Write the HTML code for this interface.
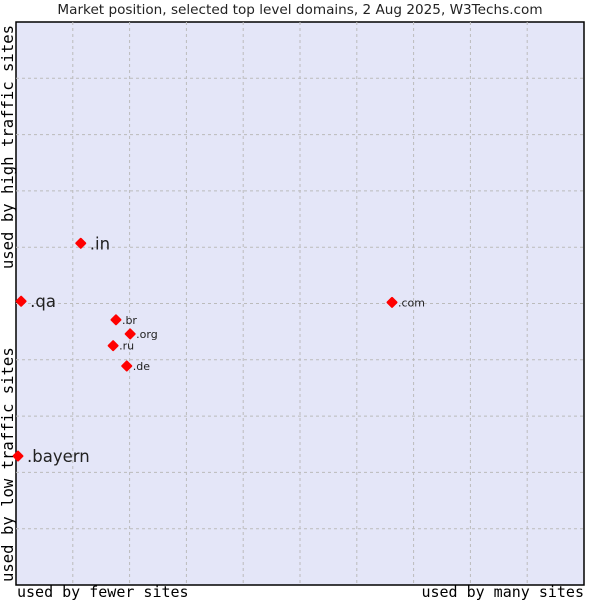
<!DOCTYPE html>
<html><head><meta charset="utf-8"><style>
body{margin:0;background:#fff;width:600px;height:600px;overflow:hidden}
svg text{font-family:"DejaVu Sans","Liberation Sans",sans-serif}
.mono{font-family:"DejaVu Sans Mono","Liberation Mono",monospace}
</style></head><body>
<svg id="chart" width="600" height="600">
<text x="300" y="14" text-anchor="middle" font-size="13.6" fill="#222">Market position, selected top level domains, 2 Aug 2025, W3Techs.com</text>
<rect x="16" y="22" width="568" height="563" fill="#e4e6f8" stroke="#000" stroke-width="1.5"/>
<g id="grid"></g>
<g id="points"></g>
<text class="mono" x="17" y="597" font-size="15" fill="#000">used by fewer sites</text>
<text class="mono" x="584" y="597" text-anchor="end" font-size="15" fill="#000">used by many sites</text>
<text class="mono" transform="translate(13,582) rotate(-90)" font-size="15.6" fill="#000">used by low traffic sites</text>
<text class="mono" transform="translate(13,25) rotate(-90)" text-anchor="end" font-size="15.6" fill="#000">used by high traffic sites</text>
</svg>
<script>
const domains=[".in",".qa",".com",".br",".org",".ru",".de",".bayern"];
const xValues=[11.4,0.9,66.2,17.6,20.1,17.1,19.5,0.35];
const yValues=[60.7,50.4,50.2,47.1,44.6,42.5,38.9,22.9];
const bigLabel=[true,true,false,false,false,false,false,true];
const L=16,T=22,W=568,H=563;
const sx=v=>L+v/100*W, sy=v=>T+H-v/100*H;
const ns="http://www.w3.org/2000/svg";
const g=document.getElementById('grid');
for(let i=1;i<10;i++){
  const v=document.createElementNS(ns,'line');
  v.setAttribute('x1',sx(i*10));v.setAttribute('x2',sx(i*10));v.setAttribute('y1',T);v.setAttribute('y2',T+H);
  v.setAttribute('stroke','#bbb');v.setAttribute('stroke-dasharray','3,3');
  
  
  g.appendChild(v);
  const h=document.createElementNS(ns,'line');
  h.setAttribute('y1',sy(i*10));h.setAttribute('y2',sy(i*10));h.setAttribute('x1',L);h.setAttribute('x2',L+W);
  h.setAttribute('stroke','#bbb');h.setAttribute('stroke-dasharray','3,3');
  
  
  g.appendChild(h);
}
const p=document.getElementById('points');
domains.forEach((d,i)=>{
  const x=sx(xValues[i]),y=sy(yValues[i]);
  const m=document.createElementNS(ns,'path');
  m.setAttribute('d',`M${x-4.5},${y} L${x},${y-4.5} L${x+4.5},${y} L${x},${y+4.5} Z`);
  m.setAttribute('fill','#f00');m.setAttribute('stroke','#f00');m.setAttribute('stroke-width','2');m.setAttribute('stroke-linejoin','round');
  
  
  p.appendChild(m);
  const t=document.createElementNS(ns,'text');
  const big=bigLabel[i];
  t.setAttribute('x',x+(big?9:6));t.setAttribute('y',y+(big?6:4));
  t.setAttribute('font-size',big?16.5:11);t.setAttribute('fill','#222');
  t.textContent=d;
  
  
  p.appendChild(t);
});
</script>
</body></html>
